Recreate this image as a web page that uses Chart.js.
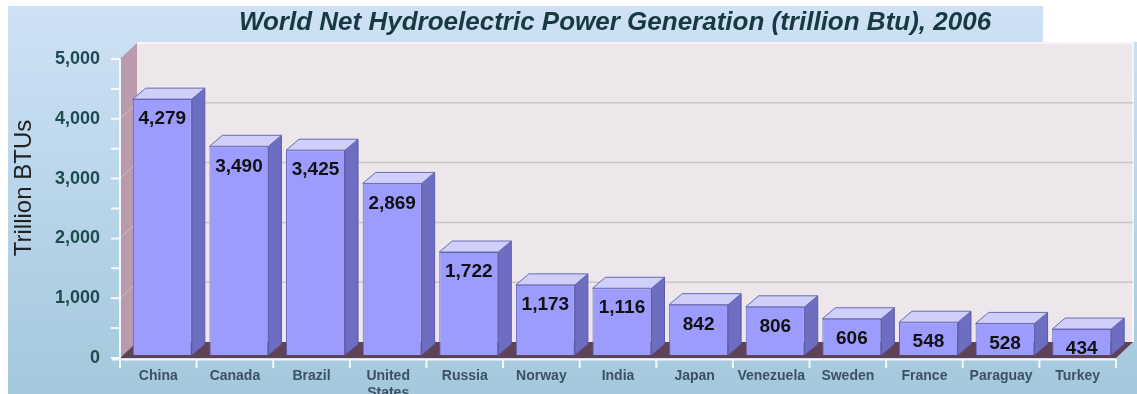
<!DOCTYPE html>
<html>
<head>
<meta charset="utf-8">
<script src="https://cdn.jsdelivr.net/npm/chart.js@4"></script>
<style>
html, body { margin: 0; padding: 0; background: #fff; }
#wrap { width: 1137px; height: 394px; }
</style>
</head>
<body>
<div id="wrap"><canvas id="chart"></canvas></div>
<script>
var countries = ['China', 'Canada', 'Brazil', ['United', 'States'], 'Russia', 'Norway', 'India', 'Japan', 'Venezuela', 'Sweden', 'France', 'Paraguay', 'Turkey'];
var generation = [4279, 3490, 3425, 2869, 1722, 1173, 1116, 842, 806, 606, 548, 528, 434];
var yTicks = [0, 1000, 2000, 3000, 4000, 5000];
var chartTitle = 'World Net Hydroelectric Power Generation (trillion Btu), 2006';
var axisTitle = 'Trillion BTUs';

var FONT = 'Arial, "Liberation Sans", sans-serif';
var DX = 13, DY = 11;   // bar depth
var WX = 17, WY = 16;   // wall / floor depth

function fmt(v) {
    return v.toLocaleString('en-US');
}

function poly(ctx, pts, fill, stroke) {
    ctx.beginPath();
    ctx.moveTo(pts[0][0], pts[0][1]);
    for (var i = 1; i < pts.length; i++) ctx.lineTo(pts[i][0], pts[i][1]);
    ctx.closePath();
    if (fill) { ctx.fillStyle = fill; ctx.fill(); }
    if (stroke) { ctx.strokeStyle = stroke; ctx.lineWidth = 1; ctx.stroke(); }
}

// walls, floor, axes and titles around the bars
var scenery = {
    id: 'scenery',
    beforeDraw: function (chart) {
        var ctx = chart.ctx, a = chart.chartArea, ys = chart.scales.y;
        var W = chart.width, H = chart.height;
        var fy = function (v) { return ys.getPixelForValue(v) + 3; };
        var by = function (v) { return fy(v) - WY; };
        var x0 = a.left - 4, x1 = a.right - 4, bx0 = x0 + WX, bx1 = x1 + WX;
        var top = yTicks[yTicks.length - 1];

        ctx.save();
        ctx.fillStyle = '#fff';
        ctx.fillRect(0, 0, W, H);
        var g = ctx.createLinearGradient(0, 0, 0, H);
        g.addColorStop(0, '#d0e2f5');
        g.addColorStop(0.5, '#b9d5ea');
        g.addColorStop(1, '#a4c8dc');
        ctx.fillStyle = g;
        ctx.fillRect(8, 6, W - 8, H - 6);
        ctx.fillStyle = '#fff';
        ctx.fillRect(1043, 0, W - 1043, by(top) - 1);

        // back wall
        ctx.fillStyle = '#ede6eb';
        ctx.fillRect(bx0, by(top), bx1 - bx0, by(0) - by(top));
        ctx.strokeStyle = '#f8f4f6';
        ctx.lineWidth = 2;
        ctx.beginPath();
        ctx.moveTo(bx0, by(top));
        ctx.lineTo(bx1, by(top));
        ctx.lineTo(bx1, by(0));
        ctx.stroke();
        ctx.strokeStyle = '#cbc5ca';
        ctx.lineWidth = 1.5;
        yTicks.forEach(function (v) {
            if (v === 0 || v === top) return;
            ctx.beginPath();
            ctx.moveTo(bx0, by(v));
            ctx.lineTo(bx1, by(v));
            ctx.stroke();
        });

        // left wall
        poly(ctx, [[x0, fy(top)], [bx0, by(top)], [bx0, by(0)], [x0, fy(0)]], '#b99bad');
        ctx.strokeStyle = 'rgba(255,255,255,0.35)';
        ctx.lineWidth = 1;
        yTicks.forEach(function (v) {
            if (v === 0 || v === top) return;
            ctx.beginPath();
            ctx.moveTo(x0, fy(v));
            ctx.lineTo(bx0, by(v));
            ctx.stroke();
        });

        // floor
        poly(ctx, [[x0, fy(0)], [x1, fy(0)], [bx1, by(0)], [bx0, by(0)]], '#5f4256');

        // axis lines and tick marks
        ctx.strokeStyle = '#f4f8fb';
        ctx.lineWidth = 2;
        ctx.beginPath();
        ctx.moveTo(x0, fy(top));
        ctx.lineTo(x0, fy(0) + 10);
        ctx.moveTo(x0 - 8, fy(0) + 1.5);
        ctx.lineTo(x1, fy(0) + 1.5);
        for (var v = 0; v <= top; v += 500) {
            ctx.moveTo(x0 - 9, fy(v));
            ctx.lineTo(x0, fy(v));
        }
        var cw = (x1 - x0) / countries.length;
        for (var i = 1; i <= countries.length; i++) {
            ctx.moveTo(x0 + i * cw, fy(0) + 1);
            ctx.lineTo(x0 + i * cw, fy(0) + 10);
        }
        ctx.stroke();

        // chart title
        ctx.fillStyle = '#173a40';
        ctx.font = 'italic bold 26px ' + FONT;
        ctx.textAlign = 'center';
        ctx.textBaseline = 'middle';
        ctx.fillText(chartTitle, 615, 23);

        // y axis title
        ctx.translate(24, 188);
        ctx.rotate(-Math.PI / 2);
        ctx.fillStyle = '#222';
        ctx.font = '24px ' + FONT;
        ctx.fillText(axisTitle, 0, 0);
        ctx.restore();
    },
    afterDatasetsDraw: function (chart) {
        var ctx = chart.ctx;
        var meta = chart.getDatasetMeta(0);
        ctx.save();
        meta.data.forEach(function (el, i) {
            var w = el.width, xl = el.x - w / 2, xr = el.x + w / 2;
            poly(ctx, [[xr, el.y], [xr + DX, el.y - DY], [xr + DX, el.base - DY], [xr, el.base]], '#6d6dc2', '#5b5ba8');
            poly(ctx, [[xl, el.y], [xl + DX, el.y - DY], [xr + DX, el.y - DY], [xr, el.y]], '#cfcff9', '#6a6ab4');
            ctx.fillStyle = '#111';
            ctx.font = 'bold 19px ' + FONT;
            ctx.textAlign = 'center';
            ctx.textBaseline = 'middle';
            ctx.fillText(fmt(generation[i]), el.x, el.y + 20);
        });
        ctx.restore();
    }
};

new Chart(document.getElementById('chart'), {
    type: 'bar',
    data: {
        labels: countries,
        datasets: [{
            data: generation,
            backgroundColor: '#9c9cff',
            borderColor: '#6464b4',
            borderWidth: 1,
            barPercentage: 0.77,
            categoryPercentage: 1
        }]
    },
    options: {
        responsive: true,
        maintainAspectRatio: false,
        animation: false,
        layout: { padding: { top: 56, right: 17, left: 0, bottom: 0 } },
        plugins: {
            legend: { display: false },
            tooltip: { enabled: false },
            title: { display: false }
        },
        scales: {
            x: {
                grid: { display: false, drawTicks: false },
                border: { display: false },
                ticks: {
                    color: '#3b5262',
                    font: { family: FONT, size: 14, weight: 'bold' },
                    padding: 13,
                    labelOffset: -4,
                    maxRotation: 0,
                    autoSkip: false
                },
                afterFit: function (s) { s.height = 39; }
            },
            y: {
                min: 0,
                max: 5000,
                grid: { display: false, drawTicks: false },
                border: { display: false },
                ticks: {
                    stepSize: 1000,
                    color: '#1d4b50',
                    font: { family: FONT, size: 18, weight: 'bold' },
                    padding: 24,
                    labelOffset: 3,
                    callback: function (v) { return fmt(v); }
                },
                afterFit: function (s) { s.width = 124; }
            }
        }
    },
    plugins: [scenery]
});
</script>
</body>
</html>
